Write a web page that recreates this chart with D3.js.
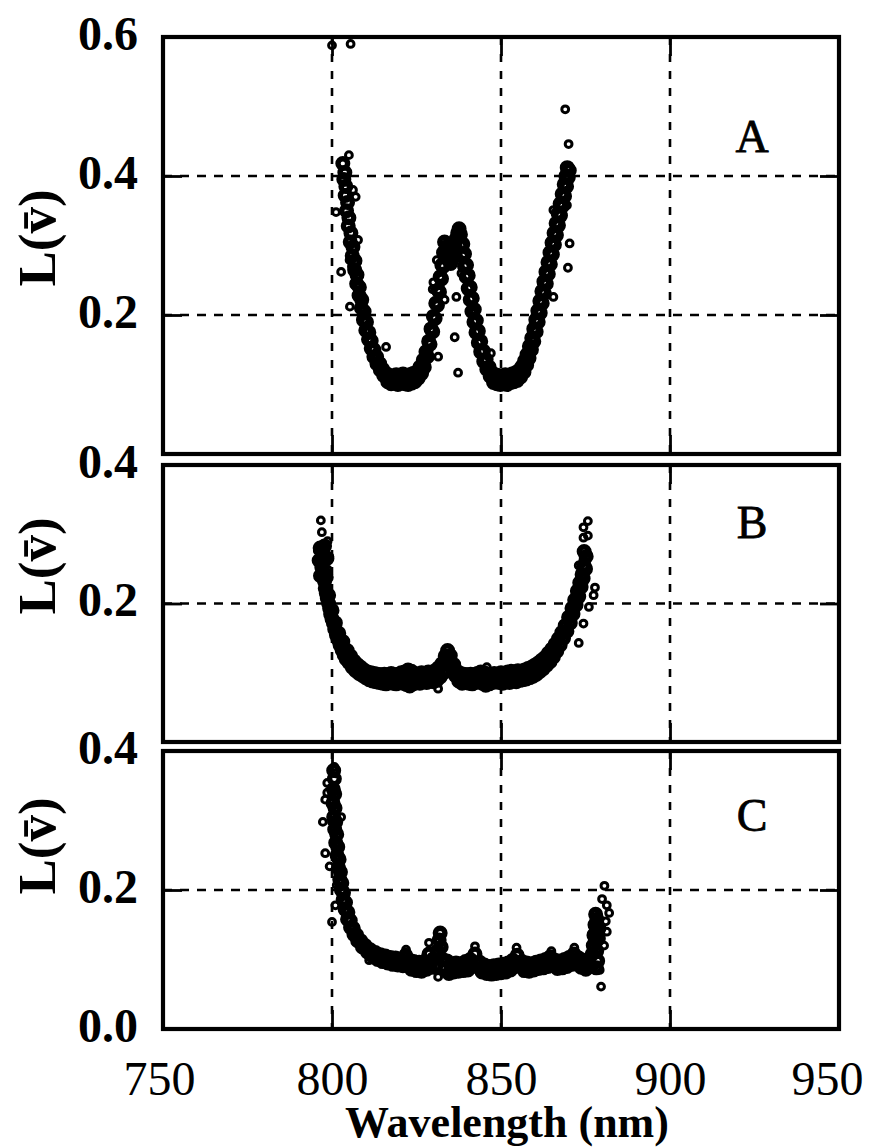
<!DOCTYPE html>
<html>
<head>
<meta charset="utf-8">
<script src="https://cdn.jsdelivr.net/npm/d3@7/dist/d3.min.js"></script>
<style>
  body { margin: 0; background: #fff; }
  svg { display: block; }
</style>
</head>
<body>
<svg id="chart" width="870" height="1147"></svg>
<script>
// ---- data -------------------------------------------------------------
const wavelengthTicks = [750, 800, 850, 900, 950];
const wavelengthGrid = [800, 850, 900];
const panelLetters = ["A", "B", "C"];
const panelMax = [0.6, 0.4, 0.4];
const gridValuesA = [0.2, 0.4];
const gridValuesB = [0.2];
const gridValuesC = [0.2];
const tickLabelsA = [0.2, 0.4, 0.6];
const tickLabelsB = [0.2, 0.4];
const tickLabelsC = [0.0, 0.2, 0.4];

// panel A: [wavelength (nm), L]
const spectrumA = [
  [803.2,0.418],[803.8,0.405],[803.5,0.395],[804.1,0.385],[803.9,0.372],[804.6,0.362],[804.3,0.35],[805.0,0.34],
  [804.8,0.328],[805.6,0.318],[805.4,0.305],[806.2,0.298],[806.0,0.285],[806.8,0.278],[806.7,0.265],[807.4,0.258],
  [807.3,0.245],[808.1,0.24],[808.0,0.228],[808.8,0.222],[808.7,0.21],[809.5,0.205],[809.3,0.193],[810.2,0.19],
  [810.0,0.178],[810.9,0.175],[810.8,0.165],[811.6,0.163],[811.6,0.152],[812.4,0.15],[812.4,0.14],[813.2,0.14],
  [813.3,0.13],[814.1,0.13],[814.3,0.121],[815.0,0.122],[815.3,0.113],[816.0,0.116],[816.5,0.104],
  [817.0,0.113],[817.5,0.101],[818.0,0.112],[818.5,0.102],[819.0,0.114],[819.5,0.100],[820.0,0.112],[820.5,0.103],
  [821.0,0.115],[821.5,0.101],[822.0,0.113],[822.5,0.100],[823.0,0.114],[823.5,0.102],[824.0,0.116],[824.5,0.104],
  [825.0,0.118],[825.5,0.109],
  [826.0,0.125],[826.5,0.116],[827.0,0.135],[827.3,0.125],[827.8,0.147],[828.2,0.140],[828.6,0.162],[829.0,0.158],
  [829.3,0.180],[829.8,0.176],[830.0,0.198],[830.5,0.195],[830.7,0.217],[831.2,0.214],[831.4,0.236],[831.8,0.233],
  [832.0,0.255],[832.4,0.252],[832.5,0.272],[832.9,0.270],[833.0,0.290],[833.4,0.288],[833.3,0.305],[833.8,0.298],
  [834.2,0.286],[834.7,0.278],[835.1,0.274],[835.6,0.281],[836.0,0.290],[836.4,0.300],[836.8,0.310],[837.2,0.318],
  [837.6,0.324],[838.0,0.316],
  [838.2,0.300],[838.7,0.302],[838.7,0.285],[839.2,0.288],[839.2,0.270],[839.8,0.272],[839.7,0.255],[840.3,0.257],
  [840.3,0.238],[840.9,0.240],[840.9,0.222],[841.5,0.224],[841.4,0.205],[842.1,0.208],[842.0,0.190],[842.7,0.192],
  [842.6,0.175],[843.3,0.177],[843.3,0.160],[844.0,0.162],[844.0,0.147],[844.8,0.148],[844.9,0.133],[845.6,0.136],
  [845.8,0.122],[846.5,0.125],[846.8,0.112],
  [847.3,0.117],[847.8,0.103],[848.3,0.114],[848.8,0.101],[849.3,0.113],[849.8,0.100],[850.3,0.112],[850.8,0.102],
  [851.3,0.114],[851.8,0.100],[852.3,0.113],[852.8,0.103],[853.3,0.115],[853.8,0.104],[854.3,0.117],[854.8,0.106],
  [855.3,0.120],[855.8,0.111],
  [856.2,0.126],[856.8,0.118],[857.0,0.134],[857.6,0.128],[857.7,0.143],[858.3,0.138],[858.4,0.155],[859.0,0.150],
  [859.1,0.167],[859.7,0.162],[859.7,0.180],[860.4,0.176],[860.3,0.193],[861.0,0.190],[860.9,0.206],[861.6,0.203],
  [861.5,0.220],[862.2,0.217],[862.1,0.234],[862.8,0.231],[862.7,0.248],[863.4,0.245],[863.3,0.262],[864.0,0.259],
  [863.9,0.276],[864.6,0.273],[864.5,0.290],[865.2,0.287],[865.1,0.304],[865.8,0.301],[865.7,0.318],[866.4,0.315],
  [866.3,0.332],[867.0,0.329],[866.9,0.346],[867.6,0.343],[867.5,0.360],[868.2,0.357],[868.1,0.374],[868.8,0.371],
  [868.7,0.388],[869.4,0.385],[869.2,0.400],[869.9,0.398],[869.6,0.412],[870.2,0.408]
];
const strayA = [
  [800.0,0.588],[805.5,0.590],[805.0,0.430],[801.2,0.348],[802.7,0.262],[805.3,0.212],[803.8,0.384],[806.2,0.380],
  [807.0,0.370],[807.7,0.308],[805.2,0.279],[805.9,0.270],[816.0,0.154],[831.4,0.140],[837.3,0.117],[831.0,0.279],
  [830.0,0.247],[829.8,0.237],[833.3,0.222],[835.3,0.293],[836.8,0.226],[838.3,0.260],[841.8,0.203],[836.3,0.168],
  [847.0,0.145],[865.5,0.351],[869.5,0.358],[870.3,0.303],[869.8,0.268],[865.5,0.226],[866.9,0.330],[869.0,0.385],
  [869.0,0.496],[870.0,0.446]
];

// panel B
const spectrumB = [
  [797.0,0.262],[797.5,0.245],[797.8,0.232],[798.0,0.222],[798.3,0.215],[798.6,0.208],[799.0,0.200],[799.3,0.193],
  [799.0,0.212],[799.6,0.185],[800.0,0.178],[800.0,0.190],[800.4,0.172],[800.8,0.163],[801.0,0.172],[801.3,0.155],
  [801.8,0.148],[802.0,0.157],[802.4,0.140],[803.0,0.133],[803.2,0.145],[803.6,0.126],[804.2,0.120],[804.5,0.132],
  [805.0,0.115],[805.5,0.124],[806.0,0.108],[806.5,0.117],[807.0,0.103],[807.5,0.112],[808.0,0.099],[808.5,0.108],
  [809.0,0.096],[809.5,0.104],[810.0,0.093],[810.5,0.101],[811.0,0.090],[811.5,0.100],[812.0,0.088],[812.5,0.099],
  [813.0,0.087],[813.5,0.098],[814.0,0.086],[814.5,0.097],[815.0,0.085],[815.5,0.098],[816.0,0.084],[816.5,0.097],
  [817.0,0.086],[817.5,0.099],[818.0,0.085],[818.5,0.097],[819.0,0.084],[819.5,0.098],[820.0,0.086],[820.5,0.100],
  [821.0,0.085],[821.5,0.101],[822.0,0.083],[822.5,0.104],[823.0,0.081],[823.5,0.102],[824.0,0.084],[824.5,0.099],
  [825.0,0.086],[825.5,0.098],[826.0,0.085],[826.5,0.100],[827.0,0.087],[827.5,0.099],[828.0,0.086],[828.5,0.101],
  [829.0,0.088],[829.5,0.100],[830.0,0.087],[830.5,0.103],[831.0,0.089],[831.5,0.107],[832.0,0.094],[832.5,0.113],
  [833.0,0.100],[833.5,0.124],[834.0,0.112],[834.2,0.132],[834.5,0.120],[835.0,0.125],[835.5,0.108],[836.0,0.112],
  [836.5,0.096],[837.0,0.102],[837.5,0.088],[838.0,0.099],[838.5,0.085],[839.0,0.098],[839.5,0.086],[840.0,0.097],
  [840.5,0.085],[841.0,0.098],[841.5,0.084],[842.0,0.097],[842.5,0.086],[843.0,0.099],[843.5,0.087],[844.0,0.101],
  [844.5,0.085],[845.0,0.100],[845.5,0.082],[846.0,0.098],[846.5,0.084],[847.0,0.097],[847.5,0.086],[848.0,0.099],
  [848.5,0.087],[849.0,0.098],[849.5,0.086],[850.0,0.100],[850.5,0.085],[851.0,0.099],[851.5,0.087],[852.0,0.101],
  [852.5,0.086],[853.0,0.102],[853.5,0.088],[854.0,0.101],[854.5,0.087],[855.0,0.103],[855.5,0.089],[856.0,0.102],
  [856.5,0.090],[857.0,0.104],[857.5,0.091],[858.0,0.106],[858.5,0.093],[859.0,0.108],[859.5,0.095],[860.0,0.111],
  [860.5,0.098],[861.0,0.114],[861.5,0.102],[862.0,0.118],[862.5,0.106],[863.0,0.122],[863.5,0.111],[864.0,0.128],
  [864.5,0.116],[865.0,0.134],[865.5,0.123],[866.0,0.141],[866.5,0.131],[867.0,0.149],[867.5,0.140],[868.0,0.158],
  [868.5,0.150],[869.0,0.168],[869.5,0.160],[870.0,0.180],[870.5,0.172],[871.0,0.193],[871.3,0.185],[871.8,0.205],
  [872.2,0.198],[872.6,0.218],[873.0,0.210],[873.3,0.230],[873.7,0.224],[874.0,0.242],[874.3,0.236],[874.6,0.255],
  [875.0,0.250],[875.2,0.268],[874.6,0.275],
  [796.5,0.280],[797.8,0.283],[797.5,0.270],[798.5,0.265],[796.2,0.262],[797.0,0.252],[796.6,0.240],[798.3,0.238]
];
const strayB = [
  [796.7,0.320],[797.0,0.303],[798.7,0.290],[795.8,0.276],[799.2,0.268],[798.7,0.249],
  [875.7,0.319],[874.4,0.310],[875.7,0.298],[874.4,0.295],[874.4,0.263],[873.0,0.255],[877.8,0.223],[877.4,0.212],
  [876.0,0.195],[874.4,0.171],[873.0,0.143],[845.8,0.108],[831.4,0.077]
];

// panel C
const spectrumC = [
  [800.5,0.372],[800.7,0.360],[800.4,0.345],[800.8,0.338],[800.3,0.325],[800.9,0.318],[800.5,0.305],[801.1,0.298],
  [800.8,0.287],[801.4,0.280],[801.1,0.268],[801.7,0.262],[801.5,0.250],[802.1,0.244],[801.9,0.232],[802.5,0.226],
  [802.3,0.215],[802.9,0.210],[802.8,0.200],[803.4,0.196],[803.3,0.186],[804.0,0.182],[803.9,0.172],[804.7,0.168],
  [804.6,0.158],[805.4,0.156],[805.5,0.146],[806.3,0.145],[806.5,0.136],[807.3,0.135],[807.6,0.127],[808.5,0.127],
  [809.0,0.118],[809.8,0.120],[810.5,0.111],[811.3,0.114],[812.0,0.105],[812.8,0.110],[813.5,0.100],[814.3,0.107],
  [815.0,0.097],[815.8,0.105],[816.5,0.095],[817.3,0.103],[818.0,0.093],[818.8,0.102],[819.5,0.092],[820.3,0.100],
  [821.0,0.091],[821.8,0.106],[822.3,0.095],[823.0,0.099],[823.5,0.086],[824.2,0.097],[825.0,0.084],[825.8,0.096],
  [826.5,0.083],[827.3,0.097],[828.0,0.086],[828.7,0.108],[829.2,0.094],[830.0,0.101],[830.6,0.090],[831.2,0.112],
  [831.7,0.128],[832.0,0.138],[832.3,0.118],[832.8,0.100],[833.4,0.087],[834.0,0.098],[834.6,0.080],[835.3,0.093],
  [836.0,0.082],[836.7,0.095],[837.4,0.083],[838.1,0.094],[838.8,0.084],[839.5,0.097],[840.2,0.085],[840.9,0.100],
  [841.6,0.090],[842.3,0.108],[843.0,0.094],[843.7,0.096],[844.4,0.082],[845.1,0.092],[845.8,0.080],[846.5,0.090],
  [847.2,0.079],[847.9,0.091],[848.6,0.080],[849.3,0.092],[850.0,0.081],[850.7,0.093],[851.4,0.082],[852.1,0.095],
  [852.8,0.085],[853.5,0.099],[854.2,0.090],[854.8,0.106],[855.5,0.093],[856.2,0.097],[856.9,0.084],[857.6,0.095],
  [858.3,0.083],[859.0,0.094],[859.7,0.085],[860.4,0.096],[861.1,0.087],[861.8,0.098],[862.5,0.088],[863.2,0.100],
  [863.9,0.090],[864.6,0.104],[865.3,0.093],[866.0,0.099],[866.7,0.087],[867.4,0.098],[868.1,0.088],[868.8,0.100],
  [869.5,0.090],[870.2,0.103],[870.9,0.093],[871.6,0.108],[872.3,0.097],[873.0,0.102],[873.7,0.089],[874.4,0.099],
  [875.1,0.086],[875.8,0.100],[876.5,0.090],[877.0,0.108],[877.3,0.120],[877.5,0.135],[877.8,0.150],[878.0,0.165],
  [878.4,0.158],[878.2,0.142],[877.9,0.128],[878.3,0.112],[878.6,0.098],[878.2,0.088],[878.8,0.130],[879.0,0.145]
];
const strayC = [
  [800.7,0.377],[801.0,0.368],[798.6,0.354],[798.6,0.340],[798.0,0.330],[797.3,0.298],[802.7,0.305],[800.0,0.298],
  [798.0,0.253],[799.3,0.234],[800.0,0.154],[801.0,0.178],[801.4,0.207],
  [880.6,0.206],[879.9,0.187],[881.3,0.178],[882.0,0.167],[881.3,0.140],[879.2,0.085],[879.6,0.061],[880.5,0.120],
  [881.0,0.155],[821.9,0.114],[828.7,0.124],[842.3,0.119],[854.6,0.117],[864.9,0.112],[871.7,0.117],[830.0,0.085],
  [831.4,0.075],[811.0,0.099]
];

// ---- layout -----------------------------------------------------------
const svg = d3.select("#chart");
svg.append("rect").attr("width", 870).attr("height", 1147).attr("fill", "#fff");

const x = d3.scaleLinear().domain([750, 950]).range([163, 839]);

const panels = [
  { letter: panelLetters[0], band: spectrumA, stray: strayA, top: 37,  bottom: 454,  max: panelMax[0], grid: gridValuesA, labels: tickLabelsA, labelY: 238, letterY: 152 },
  { letter: panelLetters[1], band: spectrumB, stray: strayB, top: 465, bottom: 742,  max: panelMax[1], grid: gridValuesB, labels: tickLabelsB, labelY: 566, letterY: 538 },
  { letter: panelLetters[2], band: spectrumC, stray: strayC, top: 751, bottom: 1029, max: panelMax[2], grid: gridValuesC, labels: tickLabelsC, labelY: 846, letterY: 831 }
];

const serif = "'Liberation Serif', 'Times New Roman', serif";
const tickLen = 19;

panels.forEach(p => {
  const y = d3.scaleLinear().domain([0, p.max]).range([p.bottom, p.top]);
  const g = svg.append("g");

  // dashed grid
  g.selectAll("line.vgrid").data(wavelengthGrid).join("line")
    .attr("x1", d => x(d)).attr("x2", d => x(d))
    .attr("y1", p.top).attr("y2", p.bottom)
    .attr("stroke", "#000").attr("stroke-width", 2.6)
    .attr("stroke-dasharray", "8,9");
  g.selectAll("line.hgrid").data(p.grid).join("line")
    .attr("x1", x.range()[0]).attr("x2", x.range()[1])
    .attr("y1", d => y(d)).attr("y2", d => y(d))
    .attr("stroke", "#000").attr("stroke-width", 2.6)
    .attr("stroke-dasharray", "9,8");

  // inward tick marks on all four sides
  const axB = d3.axisBottom(x).tickValues(wavelengthGrid).tickSizeInner(-tickLen).tickSizeOuter(0).tickFormat("");
  const axT = d3.axisTop(x).tickValues(wavelengthGrid).tickSizeInner(-tickLen).tickSizeOuter(0).tickFormat("");
  const axL = d3.axisLeft(y).tickValues(p.grid).tickSizeInner(-tickLen).tickSizeOuter(0).tickFormat("");
  const axR = d3.axisRight(y).tickValues(p.grid).tickSizeInner(-tickLen).tickSizeOuter(0).tickFormat("");
  [[axB, `translate(0,${p.bottom})`], [axT, `translate(0,${p.top})`],
   [axL, `translate(${x.range()[0]},0)`], [axR, `translate(${x.range()[1]},0)`]].forEach(([ax, tr]) => {
    const a = g.append("g").attr("transform", tr).call(ax);
    a.select(".domain").remove();
    a.selectAll(".tick line").attr("stroke", "#000").attr("stroke-width", 2.8);
  });

  // densely overlapping points along the curve
  g.append("g").selectAll("circle").data(p.band).join("circle")
    .attr("cx", d => x(d[0])).attr("cy", d => y(d[1]))
    .attr("r", 4.8)
    .attr("fill", "none").attr("stroke", "#000").attr("stroke-width", 5.4);

  // scattered single points (open circles)
  g.append("g").selectAll("circle").data(p.stray).join("circle")
    .attr("cx", d => x(d[0])).attr("cy", d => y(d[1]))
    .attr("r", 3.4)
    .attr("fill", "none").attr("stroke", "#000").attr("stroke-width", 3);

  // frame
  g.append("rect")
    .attr("x", x.range()[0]).attr("y", p.top)
    .attr("width", x.range()[1] - x.range()[0]).attr("height", p.bottom - p.top)
    .attr("fill", "none").attr("stroke", "#000").attr("stroke-width", 4.2);

  // y tick labels
  const yLab = d3.axisLeft(y).tickValues(p.labels).tickSize(0).tickPadding(0).tickFormat(d3.format(".1f"));
  const yl = g.append("g").attr("transform", `translate(${x.range()[0] - 25},-3)`).call(yLab);
  yl.select(".domain").remove();
  yl.selectAll("text").attr("font-family", serif).attr("font-weight", "bold")
    .attr("font-size", 48).attr("fill", "#000");

  // panel letter
  g.append("text").attr("x", 752).attr("y", p.letterY)
    .attr("text-anchor", "middle").attr("font-family", serif).attr("font-size", 46)
    .attr("fill", "#000").attr("stroke", "#000").attr("stroke-width", 0.8)
    .text(p.letter);

  // y axis title L(v̄)
  svg.append("text")
    .attr("transform", `translate(55,${p.labelY}) rotate(-90)`)
    .attr("text-anchor", "middle").attr("font-family", serif).attr("font-weight", "bold")
    .attr("font-size", 53).attr("fill", "#000")
    .text("L(v\u0304)");
});

// x tick labels and title
const xLab = d3.axisBottom(x).tickValues(wavelengthTicks).tickSize(0).tickPadding(0).tickFormat(d3.format("d"));
const xl = svg.append("g").attr("transform", "translate(0,1061)").call(xLab);
xl.select(".domain").remove();
xl.selectAll("text").attr("font-family", serif).attr("font-size", 48).attr("fill", "#000")
  .attr("dx", d => d === 950 ? -12 : (d === 750 ? -4 : 0));

svg.append("text").attr("x", 507).attr("y", 1137).attr("text-anchor", "middle")
  .attr("font-family", serif).attr("font-weight", "bold").attr("font-size", 44)
  .attr("fill", "#000").text("Wavelength (nm)");
</script>
</body>
</html>
